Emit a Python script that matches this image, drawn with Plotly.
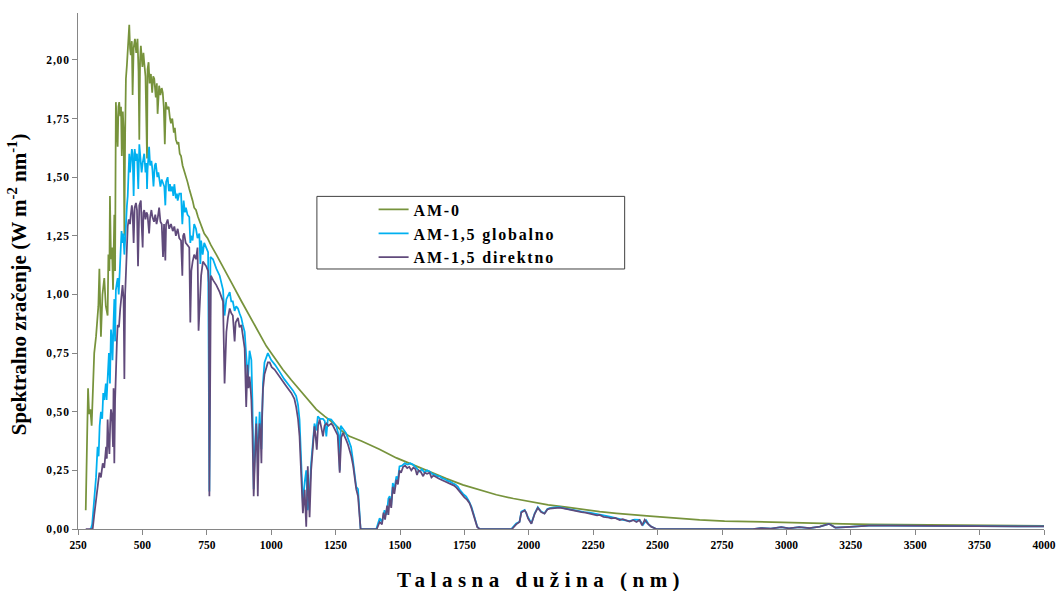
import plotly.graph_objects as go

# Wavelength (nm) and spectral irradiance (W m-2 nm-1) for the three spectra
am0_nm = [280, 285, 289, 293, 298, 303, 307, 313, 320, 326, 329, 333, 336, 339, 345, 352, 358, 365,
          368, 372, 374, 378, 382, 386, 391, 394, 397, 401, 404, 407, 410, 414, 417, 420, 424, 427,
          430, 433, 436, 440, 444, 449, 452, 455, 459, 462, 466, 471, 476, 481, 485, 488, 491, 494,
          500, 504, 507, 512, 518, 520, 524, 528, 533, 538, 542, 546, 552, 556, 559, 565, 570, 575,
          579, 583, 587, 591, 596, 602, 607, 611, 616, 622, 626, 630, 636, 640, 645, 650, 656, 662,
          669, 675, 682, 688, 695, 701, 708, 716, 727, 740, 753, 766, 787, 820, 851, 885, 916, 950,
          981, 1013, 1045, 1078, 1110, 1143, 1175, 1208, 1240, 1272, 1304, 1350, 1420, 1486, 1550,
          1615, 1680, 1744, 1810, 1874, 1940, 2003, 2075, 2146, 2210, 2275, 2340, 2404, 2470, 2534,
          2600, 2663, 2760, 2857, 2990, 3116, 3220, 3323, 3410, 3504, 3630, 3757, 3880, 4000]
am0_irr = [0.08, 0.31, 0.60, 0.49, 0.51, 0.44, 0.61, 0.75, 0.82, 0.92, 0.95, 1.11, 0.92, 0.82, 1.00,
           1.07, 0.95, 0.91, 1.17, 1.10, 1.42, 1.15, 1.20, 1.02, 1.34, 1.10, 1.82, 1.70, 1.63, 1.80,
           1.82, 1.76, 1.80, 1.59, 1.78, 1.70, 1.25, 1.68, 1.92, 1.98, 2.06, 2.15, 2.05, 2.02, 2.08,
           1.85, 2.05, 2.09, 2.03, 2.09, 1.95, 1.66, 2.00, 2.06, 1.97, 2.03, 1.99, 1.93, 1.58, 1.96,
           1.99, 1.90, 1.94, 1.86, 1.93, 1.92, 1.84, 1.90, 1.77, 1.89, 1.85, 1.88, 1.86, 1.80, 1.64,
           1.82, 1.79, 1.80, 1.75, 1.73, 1.75, 1.69, 1.71, 1.66, 1.64, 1.65, 1.60, 1.59, 1.55, 1.53,
           1.50, 1.48, 1.45, 1.43, 1.40, 1.37, 1.36, 1.33, 1.30, 1.26, 1.24, 1.21, 1.17, 1.10, 1.04,
           0.97, 0.91, 0.84, 0.78, 0.73, 0.68, 0.635, 0.595, 0.55, 0.51, 0.48, 0.453, 0.42, 0.395,
           0.375, 0.34, 0.303, 0.273, 0.245, 0.215, 0.188, 0.165, 0.146, 0.13, 0.117, 0.103, 0.093,
           0.083, 0.074, 0.067, 0.060, 0.055, 0.050, 0.044, 0.039, 0.034, 0.031, 0.027, 0.024, 0.022,
           0.020, 0.019, 0.018, 0.016, 0.014, 0.013, 0.013]

glob_nm = [295, 300, 305, 313, 320, 326, 330, 334, 339, 344, 348, 352, 358, 361, 365, 370, 374, 378,
           382, 384, 388, 391, 394, 397, 401, 404, 408, 412, 415, 419, 423, 426, 430, 433, 436, 440,
           443, 446, 449, 452, 455, 459, 462, 466, 470, 475, 479, 484, 488, 492, 497, 501, 507, 512,
           516, 518, 520, 526, 530, 535, 539, 543, 548, 552, 558, 562, 565, 570, 575, 580, 585, 589,
           592, 598, 603, 607, 611, 616, 620, 624, 630, 634, 637, 643, 650, 655, 660, 665, 669, 675,
           682, 686, 689, 695, 701, 708, 714, 721, 725, 728, 734, 740, 747, 755, 760, 764, 774, 787,
           800, 813, 819, 826, 839, 845, 851, 858, 864, 871, 877, 884, 890, 897, 903, 910, 916, 923,
           927, 932, 937, 942, 948, 955, 962, 968, 974, 980, 987, 1000, 1015, 1033, 1050, 1071, 1085,
           1097, 1104, 1110, 1117, 1123, 1130, 1136, 1142, 1149, 1155, 1162, 1168, 1175, 1181, 1190,
           1201, 1208, 1214, 1220, 1233, 1245, 1253, 1262, 1266, 1270, 1279, 1290, 1300, 1310, 1317,
           1324, 1330, 1337, 1343, 1347, 1408, 1421, 1430, 1440, 1448, 1455, 1460, 1466, 1472, 1478,
           1486, 1492, 1498, 1508, 1518, 1530, 1540, 1550, 1560, 1570, 1576, 1585, 1595, 1605, 1615,
           1625, 1635, 1645, 1654, 1665, 1675, 1685, 1693, 1705, 1715, 1725, 1732, 1745, 1757, 1767,
           1777, 1784, 1790, 1800, 1809, 1932, 1951, 1964, 1971, 1984, 1997, 2010, 2023, 2035, 2048,
           2061, 2072, 2081, 2100, 2120, 2140, 2158, 2175, 2197, 2215, 2236, 2255, 2275, 2295, 2314,
           2330, 2353, 2370, 2391, 2410, 2430, 2443, 2456, 2465, 2475, 2495, 2870, 2900, 2940, 2980,
           3010, 3050, 3090, 3130, 3165, 3190, 3230, 3270, 3320, 3400, 3500, 3600, 3700, 3800, 3900,
           4000]
glob_irr = [0.0, 0.0, 0.02, 0.124, 0.22, 0.35, 0.31, 0.44, 0.50, 0.47, 0.58, 0.55, 0.62, 0.55, 0.68,
            0.75, 0.62, 0.85, 0.80, 0.72, 0.88, 0.98, 0.80, 1.02, 1.05, 1.07, 1.00, 1.12, 1.20, 1.27,
            1.22, 1.26, 1.17, 1.25, 1.30, 1.38, 1.42, 1.55, 1.60, 1.52, 1.58, 1.62, 1.60, 1.42, 1.62,
            1.57, 1.60, 1.45, 1.64, 1.58, 1.52, 1.56, 1.60, 1.52, 1.56, 1.45, 1.53, 1.63, 1.55, 1.57,
            1.53, 1.46, 1.55, 1.56, 1.50, 1.52, 1.50, 1.46, 1.49, 1.47, 1.46, 1.38, 1.48, 1.50, 1.44,
            1.47, 1.44, 1.46, 1.42, 1.47, 1.41, 1.43, 1.40, 1.43, 1.43, 1.30, 1.40, 1.35, 1.37, 1.34,
            1.33, 1.22, 1.25, 1.23, 1.30, 1.28, 1.24, 1.26, 1.13, 1.23, 1.17, 1.22, 1.20, 1.18, 0.16,
            1.16, 1.15, 1.11, 1.08, 1.02, 0.91, 0.98, 1.01, 0.97, 0.97, 0.93, 0.95, 0.94, 0.92, 0.90,
            0.87, 0.84, 0.74, 0.64, 0.76, 0.72, 0.55, 0.17, 0.35, 0.48, 0.28, 0.50, 0.34, 0.62, 0.71,
            0.73, 0.75, 0.72, 0.70, 0.67, 0.64, 0.61, 0.59, 0.567, 0.53, 0.467, 0.296, 0.11, 0.20,
            0.25, 0.08, 0.15, 0.28, 0.36, 0.45, 0.42, 0.48, 0.47, 0.47, 0.46, 0.395, 0.47, 0.467,
            0.45, 0.438, 0.40, 0.25, 0.44, 0.424, 0.41, 0.38, 0.35, 0.296, 0.24, 0.18, 0.17, 0.05,
            0.0, 0.0, 0.046, 0.03, 0.08, 0.06, 0.13, 0.14, 0.10, 0.196, 0.17, 0.224, 0.21, 0.267,
            0.27, 0.28, 0.275, 0.28, 0.275, 0.265, 0.25, 0.245, 0.255, 0.24, 0.25, 0.245, 0.235,
            0.232, 0.225, 0.224, 0.215, 0.212, 0.205, 0.203, 0.195, 0.19, 0.18, 0.167, 0.15, 0.138,
            0.12, 0.096, 0.07, 0.046, 0.01, 0.0, 0.0, 0.024, 0.031, 0.074, 0.081, 0.05, 0.024, 0.067,
            0.093, 0.074, 0.067, 0.085, 0.089, 0.092, 0.093, 0.088, 0.084, 0.08, 0.074, 0.072, 0.070,
            0.065, 0.060, 0.057, 0.053, 0.048, 0.041, 0.038, 0.034, 0.04, 0.039, 0.017, 0.037, 0.02,
            0.011, 0.0, 0.0, 0.004, 0.002, 0.008, 0.003, 0.008, 0.004, 0.01, 0.022, 0.006, 0.008,
            0.012, 0.014, 0.014, 0.013, 0.012, 0.012, 0.011, 0.011, 0.011]

dir_nm = [280, 307, 313, 320, 326, 333, 339, 346, 352, 359, 362, 365, 368, 372, 375, 378, 382, 386,
          388, 391, 394, 397, 401, 404, 409, 414, 418, 423, 427, 430, 433, 436, 440, 443, 447, 452,
          455, 459, 462, 466, 470, 475, 479, 483, 488, 494, 497, 501, 504, 507, 512, 516, 520, 526,
          530, 535, 539, 545, 550, 555, 560, 565, 570, 575, 580, 584, 589, 592, 598, 604, 611, 618,
          624, 630, 637, 643, 650, 655, 658, 662, 668, 675, 682, 686, 690, 695, 701, 708, 714, 718,
          722, 728, 735, 742, 748, 755, 758, 760, 763, 766, 775, 787, 800, 813, 819, 823, 826, 832,
          839, 845, 851, 858, 862, 871, 877, 884, 890, 897, 903, 908, 912, 916, 920, 923, 927, 932,
          937, 942, 945, 948, 952, 955, 959, 962, 965, 968, 974, 981, 987, 994, 1002, 1013, 1025,
          1039, 1058, 1078, 1090, 1097, 1104, 1110, 1117, 1123, 1130, 1136, 1142, 1149, 1155, 1162,
          1168, 1172, 1177, 1182, 1188, 1195, 1201, 1207, 1214, 1222, 1233, 1240, 1246, 1258, 1266,
          1272, 1279, 1285, 1291, 1298, 1304, 1311, 1318, 1324, 1330, 1337, 1343, 1347, 1410, 1421,
          1430, 1436, 1442, 1450, 1455, 1460, 1466, 1472, 1478, 1486, 1492, 1498, 1504, 1512, 1520,
          1528, 1536, 1544, 1552, 1560, 1566, 1572, 1580, 1590, 1596, 1605, 1615, 1622, 1630, 1640,
          1650, 1660, 1670, 1680, 1690, 1700, 1710, 1720, 1730, 1740, 1750, 1760, 1770, 1777, 1784,
          1790, 1800, 1809, 1935, 1951, 1964, 1971, 1984, 1990, 1997, 2010, 2023, 2035, 2048, 2061,
          2072, 2081, 2100, 2120, 2140, 2158, 2175, 2190, 2205, 2220, 2236, 2250, 2265, 2275, 2290,
          2305, 2320, 2335, 2353, 2365, 2380, 2391, 2405, 2418, 2430, 2440, 2450, 2460, 2475, 2495,
          2870, 2900, 2940, 2980, 3010, 3050, 3090, 3130, 3165, 3190, 3230, 3270, 3320, 3400, 3500,
          3600, 3700, 3800, 3900, 4000]
dir_irr = [0.0, 0.0, 0.06, 0.124, 0.19, 0.24, 0.22, 0.28, 0.26, 0.35, 0.30, 0.467, 0.38, 0.32, 0.45,
           0.51, 0.48, 0.35, 0.60, 0.28, 0.55, 0.72, 0.80, 0.87, 0.86, 0.94, 0.98, 1.04, 0.98, 0.64,
           1.00, 1.12, 1.20, 1.29, 1.32, 1.30, 1.34, 1.38, 1.35, 1.22, 1.37, 1.39, 1.36, 1.12, 1.38,
           1.40, 1.30, 1.20, 1.35, 1.36, 1.32, 1.35, 1.34, 1.26, 1.33, 1.36, 1.33, 1.31, 1.34, 1.30,
           1.33, 1.37, 1.31, 1.30, 1.16, 1.30, 1.145, 1.30, 1.32, 1.28, 1.30, 1.27, 1.29, 1.25, 1.28,
           1.24, 1.23, 1.08, 1.25, 1.26, 1.22, 1.21, 1.20, 0.88, 1.10, 1.14, 1.17, 1.15, 1.20, 0.845,
           0.97, 1.08, 1.14, 1.13, 1.12, 1.10, 1.05, 0.14, 0.95, 1.08, 1.06, 1.04, 1.01, 0.97, 0.62,
           0.75, 0.84, 0.90, 0.94, 0.92, 0.91, 0.80, 0.88, 0.90, 0.86, 0.87, 0.82, 0.77, 0.52, 0.70,
           0.60, 0.65, 0.60, 0.55, 0.42, 0.14, 0.30, 0.45, 0.35, 0.14, 0.38, 0.45, 0.40, 0.28, 0.50,
           0.595, 0.66, 0.695, 0.71, 0.71, 0.69, 0.68, 0.66, 0.64, 0.61, 0.58, 0.555, 0.52, 0.47,
           0.395, 0.224, 0.067, 0.167, 0.01, 0.267, 0.05, 0.25, 0.338, 0.438, 0.40, 0.338, 0.44,
           0.467, 0.43, 0.395, 0.44, 0.45, 0.44, 0.45, 0.44, 0.424, 0.40, 0.24, 0.39, 0.41, 0.39,
           0.38, 0.36, 0.34, 0.31, 0.27, 0.22, 0.17, 0.14, 0.05, 0.0, 0.0, 0.03, 0.02, 0.07, 0.04,
           0.10, 0.06, 0.13, 0.09, 0.18, 0.15, 0.21, 0.19, 0.25, 0.24, 0.265, 0.27, 0.26, 0.265,
           0.25, 0.262, 0.255, 0.23, 0.25, 0.245, 0.225, 0.24, 0.235, 0.24, 0.22, 0.228, 0.22,
           0.215, 0.21, 0.205, 0.20, 0.195, 0.19, 0.185, 0.175, 0.16, 0.15, 0.135, 0.125, 0.11, 0.09,
           0.065, 0.04, 0.008, 0.0, 0.0, 0.02, 0.03, 0.07, 0.079, 0.07, 0.045, 0.022, 0.065, 0.09,
           0.072, 0.065, 0.083, 0.087, 0.09, 0.091, 0.087, 0.082, 0.079, 0.075, 0.072, 0.07, 0.066,
           0.062, 0.058, 0.06, 0.052, 0.05, 0.045, 0.047, 0.038, 0.042, 0.035, 0.032, 0.038, 0.03,
           0.038, 0.015, 0.04, 0.025, 0.01, 0.0, 0.0, 0.004, 0.002, 0.008, 0.003, 0.008, 0.004, 0.01,
           0.022, 0.006, 0.008, 0.012, 0.014, 0.014, 0.013, 0.012, 0.012, 0.011, 0.011, 0.011]

series_names = ["AM-0", "AM-1,5 globalno", "AM-1,5 direktno"]
series_colors = ["#77933C", "#00B0F0", "#604A7B"]
x_ticks = list(range(250, 4001, 250))
y_ticks = [0, 0.25, 0.5, 0.75, 1.0, 1.25, 1.5, 1.75, 2.0]
y_tick_text = ["0,00", "0,25", "0,50", "0,75", "1,00", "1,25", "1,50", "1,75", "2,00"]

SERIF = "Liberation Serif, Times New Roman, serif"
AXIS_GREY = "#868686"


def spaced(text, px):
    """Wrap text in a span with extra letter spacing."""
    return f'<span style="letter-spacing:{px}px">{text}</span>'


fig = go.Figure()
for name, xs, ys, color in zip(series_names,
                               [am0_nm, glob_nm, dir_nm],
                               [am0_irr, glob_irr, dir_irr],
                               series_colors):
    fig.add_trace(go.Scatter(x=xs, y=ys, mode="lines", name=spaced(name, 1.8),
                             line=dict(color=color, width=1.75)))

fig.update_layout(
    width=1057, height=591,
    autosize=False,
    margin=dict(l=78, r=13, t=13, b=62),
    paper_bgcolor="white", plot_bgcolor="white",
    showlegend=True,
    legend=dict(x=0.306, y=0.652, xanchor="left", yanchor="top",
                bgcolor="rgba(0,0,0,0)", borderwidth=0,
                font=dict(family=SERIF, size=16, color="black", weight="bold")),
    xaxis=dict(range=[250, 4000], tickvals=x_ticks, tickformat="d", automargin=False,
               showgrid=False, zeroline=False, showline=True, linecolor=AXIS_GREY, linewidth=1,
               ticks="outside", ticklen=5, tickcolor=AXIS_GREY,
               tickfont=dict(family=SERIF, size=11.5, color="black", weight="bold")),
    yaxis=dict(range=[0, 2.2], tickvals=y_ticks, ticktext=[spaced(t, 0.8) for t in y_tick_text],
               automargin=False,
               showgrid=False, zeroline=False, showline=True, linecolor=AXIS_GREY, linewidth=1,
               ticks="outside", ticklen=5, tickcolor=AXIS_GREY,
               tickfont=dict(family=SERIF, size=11.5, color="black", weight="bold")),
    shapes=[dict(type="rect", xref="paper", yref="paper", x0=0.2473, x1=0.5659,
                 y0=0.5039, y1=0.6446, line=dict(color="#404040", width=1),
                 fillcolor="rgba(0,0,0,0)")],
    annotations=[
        dict(text="Spektralno zračenje (W m<sup>-2</sup> nm<sup>-1</sup>)", textangle=-90,
             xref="paper", yref="paper", x=-0.0625, y=0.4735, xanchor="center", yanchor="middle",
             showarrow=False,
             font=dict(family=SERIF, size=21, color="black", weight="bold")),
        dict(text=spaced("Talasna dužina (nm)", 5.5),
             xref="paper", yref="paper", x=0.479, y=-0.098, xanchor="center", yanchor="middle",
             showarrow=False,
             font=dict(family=SERIF, size=21, color="black", weight="bold")),
    ],
)

fig.write_html("out.html", config={"responsive": False})
